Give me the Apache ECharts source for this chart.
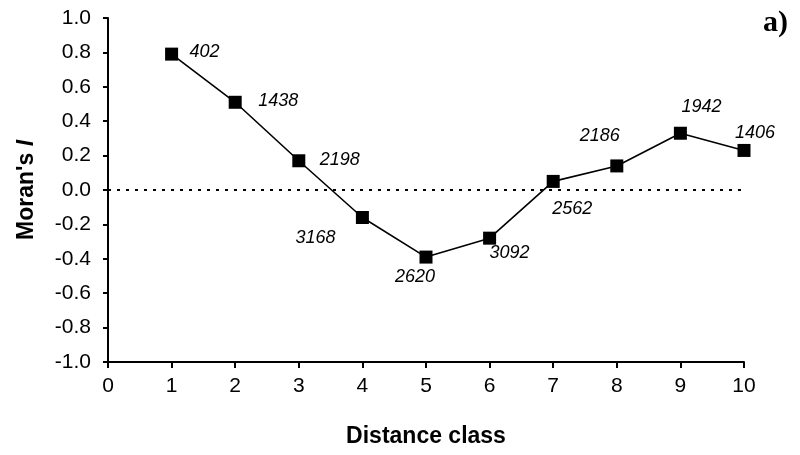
<!DOCTYPE html>
<html>
<head>
<meta charset="utf-8">
<script src="https://cdn.jsdelivr.net/npm/echarts@6/dist/echarts.min.js"></script>
<style>
  html, body { margin: 0; padding: 0; background: #fff; }
  #chart { width: 800px; height: 455px; }
</style>
</head>
<body>
<div id="chart"></div>
<script>
// Moran's I correlogram by distance class, with pair counts per class
const distanceClasses = [1, 2, 3, 4, 5, 6, 7, 8, 9, 10];
const moransI = [0.79, 0.51, 0.17, -0.16, -0.39, -0.28, 0.05, 0.14, 0.33, 0.23];
const pairCounts = ['402', '1438', '2198', '3168', '2620', '3092', '2562', '2186', '1942', '1406'];

// where each count label sits relative to its marker
const labelOffsets = [
  [33, -2], [43, -1], [41, -1], [-47, 20], [-11, 20],
  [20, 15], [19, 28], [-17, -30], [21, -26], [11, -17]
];

const FONT = '"Liberation Sans", Arial, sans-serif';

const seriesData = distanceClasses.map((x, i) => ({
  value: [x, moransI[i]],
  label: {
    show: true,
    position: 'inside',
    offset: labelOffsets[i],
    formatter: pairCounts[i],
    fontFamily: FONT,
    fontStyle: 'italic',
    fontSize: 18,
    color: '#000'
  }
}));

const chart = echarts.init(document.getElementById('chart'), null, { renderer: 'canvas' });

chart.setOption({
  animation: false,
  backgroundColor: '#fff',
  grid: { left: 108, top: 18, right: 56, bottom: 93, containLabel: false },
  xAxis: {
    type: 'value',
    min: 0,
    max: 10,
    interval: 1,
    name: 'Distance class',
    nameLocation: 'middle',
    nameGap: 63,
    nameTextStyle: { fontFamily: FONT, fontWeight: 'bold', fontSize: 23, color: '#000' },
    axisLine: { show: true, onZero: false, lineStyle: { color: '#000', width: 2 } },
    axisTick: { show: true, length: 6, lineStyle: { color: '#000', width: 2 } },
    axisLabel: { fontFamily: FONT, fontSize: 21, color: '#000', margin: 14 },
    splitLine: { show: false }
  },
  yAxis: {
    type: 'value',
    min: -1,
    max: 1,
    interval: 0.2,
    name: '{b|Moran\'s }{i|I}',
    nameLocation: 'middle',
    nameGap: 70,
    nameRotate: 90,
    nameTextStyle: {
      rich: {
        b: { fontFamily: FONT, fontWeight: 'bold', fontSize: 23, color: '#000' },
        i: { fontFamily: FONT, fontWeight: 'bold', fontStyle: 'italic', fontSize: 23, color: '#000' }
      }
    },
    axisLine: { show: true, onZero: false, lineStyle: { color: '#000', width: 2 } },
    axisTick: { show: true, length: 5, lineStyle: { color: '#000', width: 2 } },
    axisLabel: {
      fontFamily: FONT, fontSize: 21, color: '#000', margin: 17,
      formatter: v => v.toFixed(1)
    },
    splitLine: { show: false }
  },
  graphic: [{
    type: 'text',
    left: 763,
    top: 8,
    style: {
      text: 'a)',
      font: 'bold 30px "Liberation Serif", "Times New Roman", serif',
      fill: '#000'
    }
  }],
  series: [{
    type: 'line',
    data: seriesData,
    symbol: 'rect',
    symbolSize: 13,
    itemStyle: { color: '#000' },
    lineStyle: { color: '#000', width: 1.6 },
    markLine: {
      silent: true,
      symbol: 'none',
      label: { show: false },
      lineStyle: { color: '#000', type: [3, 6], width: 2 },
      data: [[{ coord: [0, 0] }, { coord: [10, 0] }]]
    }
  }]
});
</script>
</body>
</html>
